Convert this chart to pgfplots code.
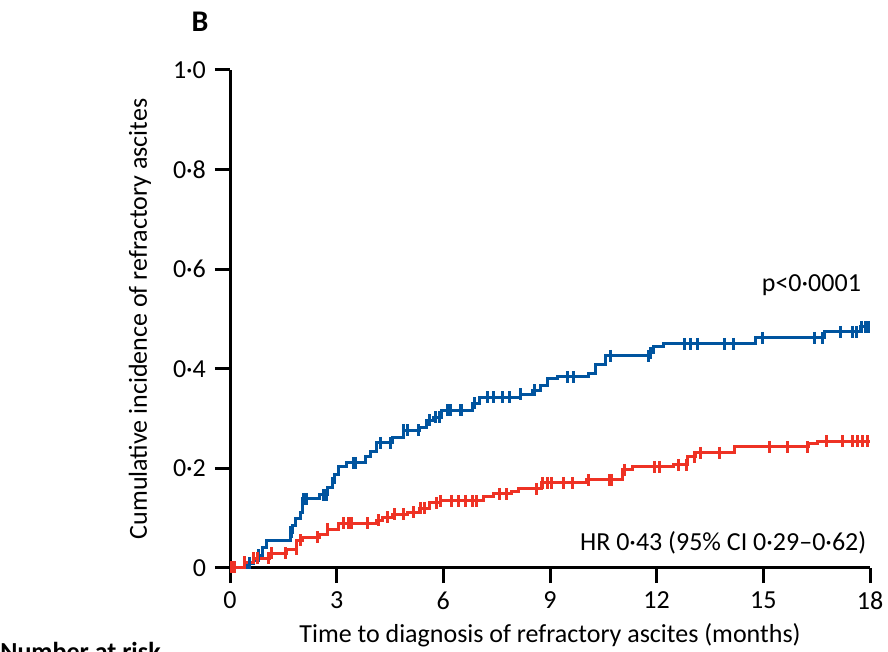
\documentclass[border=0pt]{standalone}
\usepackage{fontspec}
\setmainfont{Carlito}
\usepackage{pgfplots}
\usepackage{pgfplotstable}
\pgfplotsset{compat=1.18}
\definecolor{kmblue}{RGB}{0,84,159}
\definecolor{kmred}{RGB}{238,50,36}

\pgfplotstableread{
x y
0 0
0.48 0.010
0.65 0.016
0.79 0.026
0.90 0.042
1.04 0.056
1.69 0.072
1.77 0.086
1.83 0.100
1.97 0.112
2.05 0.139
2.53 0.147
2.73 0.161
2.87 0.171
2.95 0.187
3.04 0.203
3.29 0.211
3.80 0.223
3.94 0.233
4.13 0.251
4.58 0.263
4.87 0.277
5.34 0.283
5.54 0.297
5.71 0.303
5.96 0.317
6.83 0.331
7.03 0.343
8.16 0.349
8.52 0.357
8.72 0.367
8.92 0.380
9.20 0.384
10.07 0.390
10.27 0.408
10.55 0.426
11.81 0.432
11.90 0.444
12.18 0.450
14.77 0.462
16.73 0.474
17.72 0.484
18.00 0.484
}\bluestep

\pgfplotstableread{
x y
0.56 0.010
0.79 0.026
1.69 0.072
1.74 0.072
2.08 0.139
2.14 0.139
2.62 0.147
2.70 0.147
2.87 0.171
3.46 0.211
3.54 0.211
4.22 0.251
4.50 0.251
4.89 0.277
4.98 0.277
5.29 0.277
5.62 0.297
5.79 0.303
5.88 0.303
6.13 0.317
6.19 0.317
6.47 0.317
6.52 0.317
6.89 0.331
7.23 0.343
7.40 0.343
7.65 0.343
7.87 0.343
8.16 0.349
8.55 0.357
9.48 0.384
9.67 0.384
10.69 0.426
11.76 0.426
11.84 0.432
12.77 0.450
12.94 0.450
13.16 0.450
13.92 0.450
14.17 0.450
14.99 0.462
16.45 0.462
16.65 0.462
17.16 0.474
17.52 0.474
17.63 0.474
17.75 0.484
17.86 0.484
17.97 0.484
}\bluecens

\pgfplotstableread{
x y
0 0.002
0.42 0.012
0.65 0.020
1.12 0.030
1.60 0.038
1.88 0.056
2.03 0.062
2.53 0.068
2.73 0.078
3.04 0.090
4.13 0.096
4.30 0.102
4.58 0.108
4.98 0.112
5.34 0.120
5.62 0.131
5.91 0.135
7.12 0.143
7.40 0.149
7.93 0.153
8.10 0.159
8.77 0.171
10.04 0.177
11.05 0.197
11.33 0.203
12.46 0.207
12.88 0.223
13.08 0.231
14.20 0.243
16.26 0.249
16.51 0.255
18.00 0.255
}\redstep

\pgfplotstableread{
x y
0.03 0.002
0.14 0.002
0.42 0.012
0.67 0.020
0.76 0.020
1.07 0.020
1.18 0.030
1.55 0.030
1.86 0.038
1.97 0.056
2.47 0.062
2.73 0.078
3.18 0.090
3.32 0.090
3.43 0.090
3.88 0.090
4.19 0.096
4.42 0.102
4.64 0.108
4.87 0.108
5.15 0.112
5.37 0.120
5.46 0.120
5.82 0.131
5.93 0.135
6.22 0.135
6.44 0.135
6.61 0.135
6.83 0.135
6.92 0.135
7.57 0.149
7.79 0.149
8.61 0.159
8.80 0.171
8.92 0.171
9.03 0.171
9.37 0.171
9.62 0.171
10.07 0.177
10.66 0.177
10.74 0.177
11.10 0.197
11.95 0.203
12.09 0.203
12.60 0.207
12.85 0.207
13.05 0.223
13.22 0.231
13.78 0.231
15.16 0.243
15.67 0.243
16.23 0.243
16.79 0.255
17.24 0.255
17.52 0.255
17.66 0.255
17.80 0.255
17.94 0.255
}\redcens

\begin{document}
\fontsize{13pt}{15pt}\selectfont
\begin{tikzpicture}
\useasboundingbox (0,0) rectangle (444pt,326pt);
\begin{axis}[
  at={(115pt,42pt)}, anchor=south west,
  scale only axis, width=320pt, height=249pt,
  xmin=0, xmax=18, ymin=0, ymax=1,
  axis x line*=bottom, axis y line*=left,
  axis line style={line width=1.5pt, -},
  every tick/.style={black, line width=1.5pt},
  tick align=outside, major tick length=7.5pt,
  xtick={0,3,6,9,12,15,18},
  ytick={0,0.2,0.4,0.6,0.8,1.0},
  yticklabels={0,0·2,0·4,0·6,0·8,1·0},
  xticklabels={0,3,6,9,12,15,18},
  tick label style={font=\fontsize{13pt}{15pt}\selectfont},
  clip=false,
]
\addplot[const plot, kmblue, line width=1.5pt] table {\bluestep};
\addplot[only marks, mark=|, mark size=3pt, kmblue, mark options={line width=1.5pt}] table {\bluecens};
\addplot[const plot, kmred, line width=1.5pt] table {\redstep};
\addplot[only marks, mark=|, mark size=3pt, kmred, mark options={line width=1.5pt}] table {\redcens};
\node[anchor=east] at (axis cs:18,0.568) {p<0·0001};
\node[anchor=east] at (axis cs:18.15,0.05) {HR 0·43 (95\% CI 0·29–0·62)};
\end{axis}
\node[font=\bfseries\fontsize{15pt}{17pt}\selectfont] at (100pt,315pt) {B};
\node[rotate=90] at (70pt,166.5pt) {Cumulative incidence of refractory ascites};
\node at (275pt,8.5pt) {Time to diagnosis of refractory ascites (months)};
\node[anchor=base west, inner sep=0pt, font=\bfseries] at (0pt,-4.5pt) {Number at risk};
\end{tikzpicture}
\end{document}
